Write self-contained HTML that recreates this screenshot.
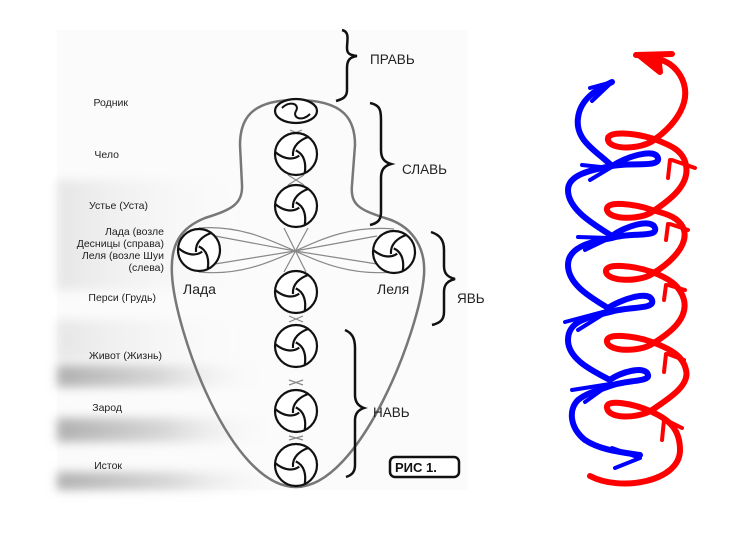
<!DOCTYPE html>
<html><head><meta charset="utf-8"><style>
html,body{margin:0;padding:0;background:#fff;}
svg{display:block}
text{font-family:"Liberation Sans",sans-serif;}
</style></head><body>
<svg width="746" height="547" viewBox="0 0 746 547" xmlns="http://www.w3.org/2000/svg">
<defs>
<linearGradient id="g1" x1="0" x2="1" y1="0" y2="0">
<stop offset="0" stop-color="#b0b0b0"/><stop offset="0.5" stop-color="#d8d8d8"/><stop offset="1" stop-color="#fafafa" stop-opacity="0"/>
</linearGradient>
<linearGradient id="g2" x1="0" x2="1"><stop offset="0" stop-color="#e6e6e6"/><stop offset="1" stop-color="#fafafa" stop-opacity="0"/></linearGradient>
<filter id="bl" x="-10%" y="-50%" width="120%" height="200%"><feGaussianBlur stdDeviation="5"/></filter>
<g id="ch">
<circle r="21" fill="#fff" stroke="#111" stroke-width="2.2"/>
<g fill="none" stroke="#111" stroke-width="2.2">
<path d="M-3,2 C-4,-8 4,-14 12,-17"/>
<path d="M-3,2 C-4,-8 4,-14 12,-17" transform="rotate(120)"/>
<path d="M-3,2 C-4,-8 4,-14 12,-17" transform="rotate(240)"/>
</g>
</g>
</defs>
<rect x="57" y="30" width="410" height="460" fill="#fbfbfb"/>
<g filter="url(#bl)">
<rect x="57" y="180" width="200" height="110" fill="url(#g2)"/>
<rect x="57" y="320" width="200" height="40" fill="url(#g2)"/>
<rect x="57" y="365" width="210" height="22" fill="url(#g1)"/>
<rect x="57" y="418" width="220" height="24" fill="url(#g1)"/>
<rect x="57" y="472" width="230" height="18" fill="url(#g1)"/>
</g>
<!-- body -->
<path d="M296,100 C250,100 240,120 240,145 L242,185 C243,205 230,210 205,218 C180,228 170,245 172,275 C175,330 230,487 296,487 C360,487 420,330 424,275 C426,245 410,225 385,218 C360,210 350,205 352,185 L355,145 C355,120 345,100 296,100 Z" fill="none" stroke="#777" stroke-width="2.5"/>
<g stroke="#888" stroke-width="1.2" fill="none">
<path d="M199,228 C240,225 270,240 295,251 C320,240 350,225 394,229"/>
<path d="M199,272 C240,276 270,262 295,251 C320,262 350,276 394,272"/>
<path d="M215,236 L295,251 L377,236"/>
<path d="M215,264 L295,251 L377,264"/>
<path d="M284,228 L306,272 M308,228 L284,272"/>
<path d="M290,130 L302,135 M302,130 L290,135"/>
<path d="M288,175 L304,185 M304,175 L288,185"/>
<path d="M289,322 L303,316 M303,322 L289,316"/>
<path d="M289,385 L303,380 M303,385 L289,380"/>
<path d="M289,440 L303,436 M303,440 L289,436"/>
</g>
<g>
<ellipse cx="296" cy="111" rx="21" ry="12" fill="#fff" stroke="#111" stroke-width="2.2"/>
<path d="M282,108 C290,100 300,104 296,111 C292,118 302,122 310,114" fill="none" stroke="#111" stroke-width="2"/>
<use href="#ch" x="296" y="154"/>
<use href="#ch" x="296" y="206"/>
<use href="#ch" x="199" y="250"/>
<use href="#ch" x="394" y="252"/>
<use href="#ch" x="296" y="292"/>
<use href="#ch" x="296" y="346"/>
<use href="#ch" x="296" y="411"/>
<use href="#ch" x="296" y="465"/>
</g>
<g fill="none" stroke="#111" stroke-width="2.5">
<path d="M342,30 C350,32 347,40 347,48 C347,54 350,55 357,56 C350,57 347,60 347,68 L347,90 C347,97 343,99 336,101"/>
<path d="M370,103 C380,105 381,110 381,120 L381,150 C381,158 384,162 391,164 C384,166 381,170 381,178 L381,212 C381,220 378,223 370,225"/>
<path d="M431,232 C440,235 444,240 444,250 L444,266 C444,273 447,277 455,279 C447,281 444,285 444,292 L444,312 C444,320 440,323 432,325"/>
<path d="M345,330 C352,333 355,338 355,348 L355,395 C355,402 358,406 364,408 C358,410 355,414 355,420 L355,465 C355,472 352,475 346,477"/>
</g>
<g font-size="13.5" fill="#222">
<text x="370" y="64">ПРАВЬ</text>
<text x="402" y="174">СЛАВЬ</text>
<text x="457" y="303">ЯВЬ</text>
<text x="373" y="417">НАВЬ</text>
<text x="183" y="294" font-size="14">Лада</text>
<text x="377" y="294" font-size="14">Леля</text>
</g>
<g font-size="10.5" fill="#222" text-anchor="end">
<text x="128" y="106">Родник</text>
<text x="119" y="158">Чело</text>
<text x="148" y="209">Устье (Уста)</text>
<text x="164" y="235">Лада (возле</text>
<text x="164" y="247">Десницы (справа)</text>
<text x="164" y="259">Леля (возле Шуи</text>
<text x="164" y="271">(слева)</text>
<text x="156" y="301">Перси (Грудь)</text>
<text x="162" y="359">Живот (Жизнь)</text>
<text x="122" y="411">Зарод</text>
<text x="122" y="469">Исток</text>
</g>
<rect x="390" y="457" width="69" height="20" rx="5" fill="#fff" stroke="#111" stroke-width="2.5"/>
<text x="395" y="472" font-family="Liberation Mono,monospace" font-size="13" font-weight="bold" fill="#111">РИС 1.</text>
<g fill="none" stroke="#f00" stroke-width="6" stroke-linecap="round" stroke-linejoin="round">
<path d="M590,476 C620,492 680,482 680,450 C680,430 670,420 652,412 C635,404 605,398 607,408 C609,420 640,418 652,410 C670,398 690,385 686,370 C683,355 668,348 652,342 C635,336 605,332 607,342 C609,352 640,352 652,344 C672,332 688,318 684,300 C680,285 668,278 652,272 C635,266 604,262 606,272 C608,282 640,282 652,274 C672,262 688,245 684,230 C680,218 668,214 652,210 C635,204 605,200 607,210 C609,220 640,220 652,212 C670,200 690,185 686,165 C683,150 670,145 654,139 C635,133 606,130 608,140 C610,150 640,150 654,140 C675,125 695,100 680,75 C672,62 660,58 648,58"/>
<path d="M636,55 L672,54" />
<path d="M640,56 L660,72 L658,56 Z" fill="#f00"/>
<g stroke-width="4">
<path d="M672,160 L695,168 M670,160 L668,178"/>
<path d="M670,224 L688,230 M668,224 L666,240"/>
<path d="M668,285 L685,290 M666,285 L664,300"/>
<path d="M668,354 L684,360 M666,354 L664,372"/>
<path d="M666,420 L682,428 M664,420 L662,440"/>
</g>
</g>
<g fill="none" stroke="#00f" stroke-width="6" stroke-linecap="round" stroke-linejoin="round">
<path d="M640,455 C620,452 600,450 585,440 C570,428 568,410 578,400 C588,392 600,390 610,386 C625,380 650,382 648,375 C646,365 620,372 610,380 C595,372 568,360 568,340 C568,322 585,318 610,312 C630,306 655,310 652,300 C648,290 620,300 608,308 C592,298 568,285 568,265 C568,248 588,242 612,238 C632,232 658,238 655,228 C652,218 625,226 612,236 C595,225 568,210 568,190 C568,175 590,170 612,166 C632,162 660,168 658,158 C655,148 628,156 612,166 C595,150 575,140 578,118 C580,100 595,90 612,82"/>
<g stroke-width="4">
<path d="M612,82 L590,88 M612,82 L592,101"/>
<path d="M610,168 L582,165 M610,168 L590,180"/>
<path d="M610,238 L578,237 M610,238 L585,250"/>
<path d="M610,310 L565,322 M610,310 L578,330"/>
<path d="M610,384 L572,390 M610,384 L585,402"/>
<path d="M640,458 L612,448 M640,458 L615,468"/>
</g>
</g>
</svg>
</body></html>
